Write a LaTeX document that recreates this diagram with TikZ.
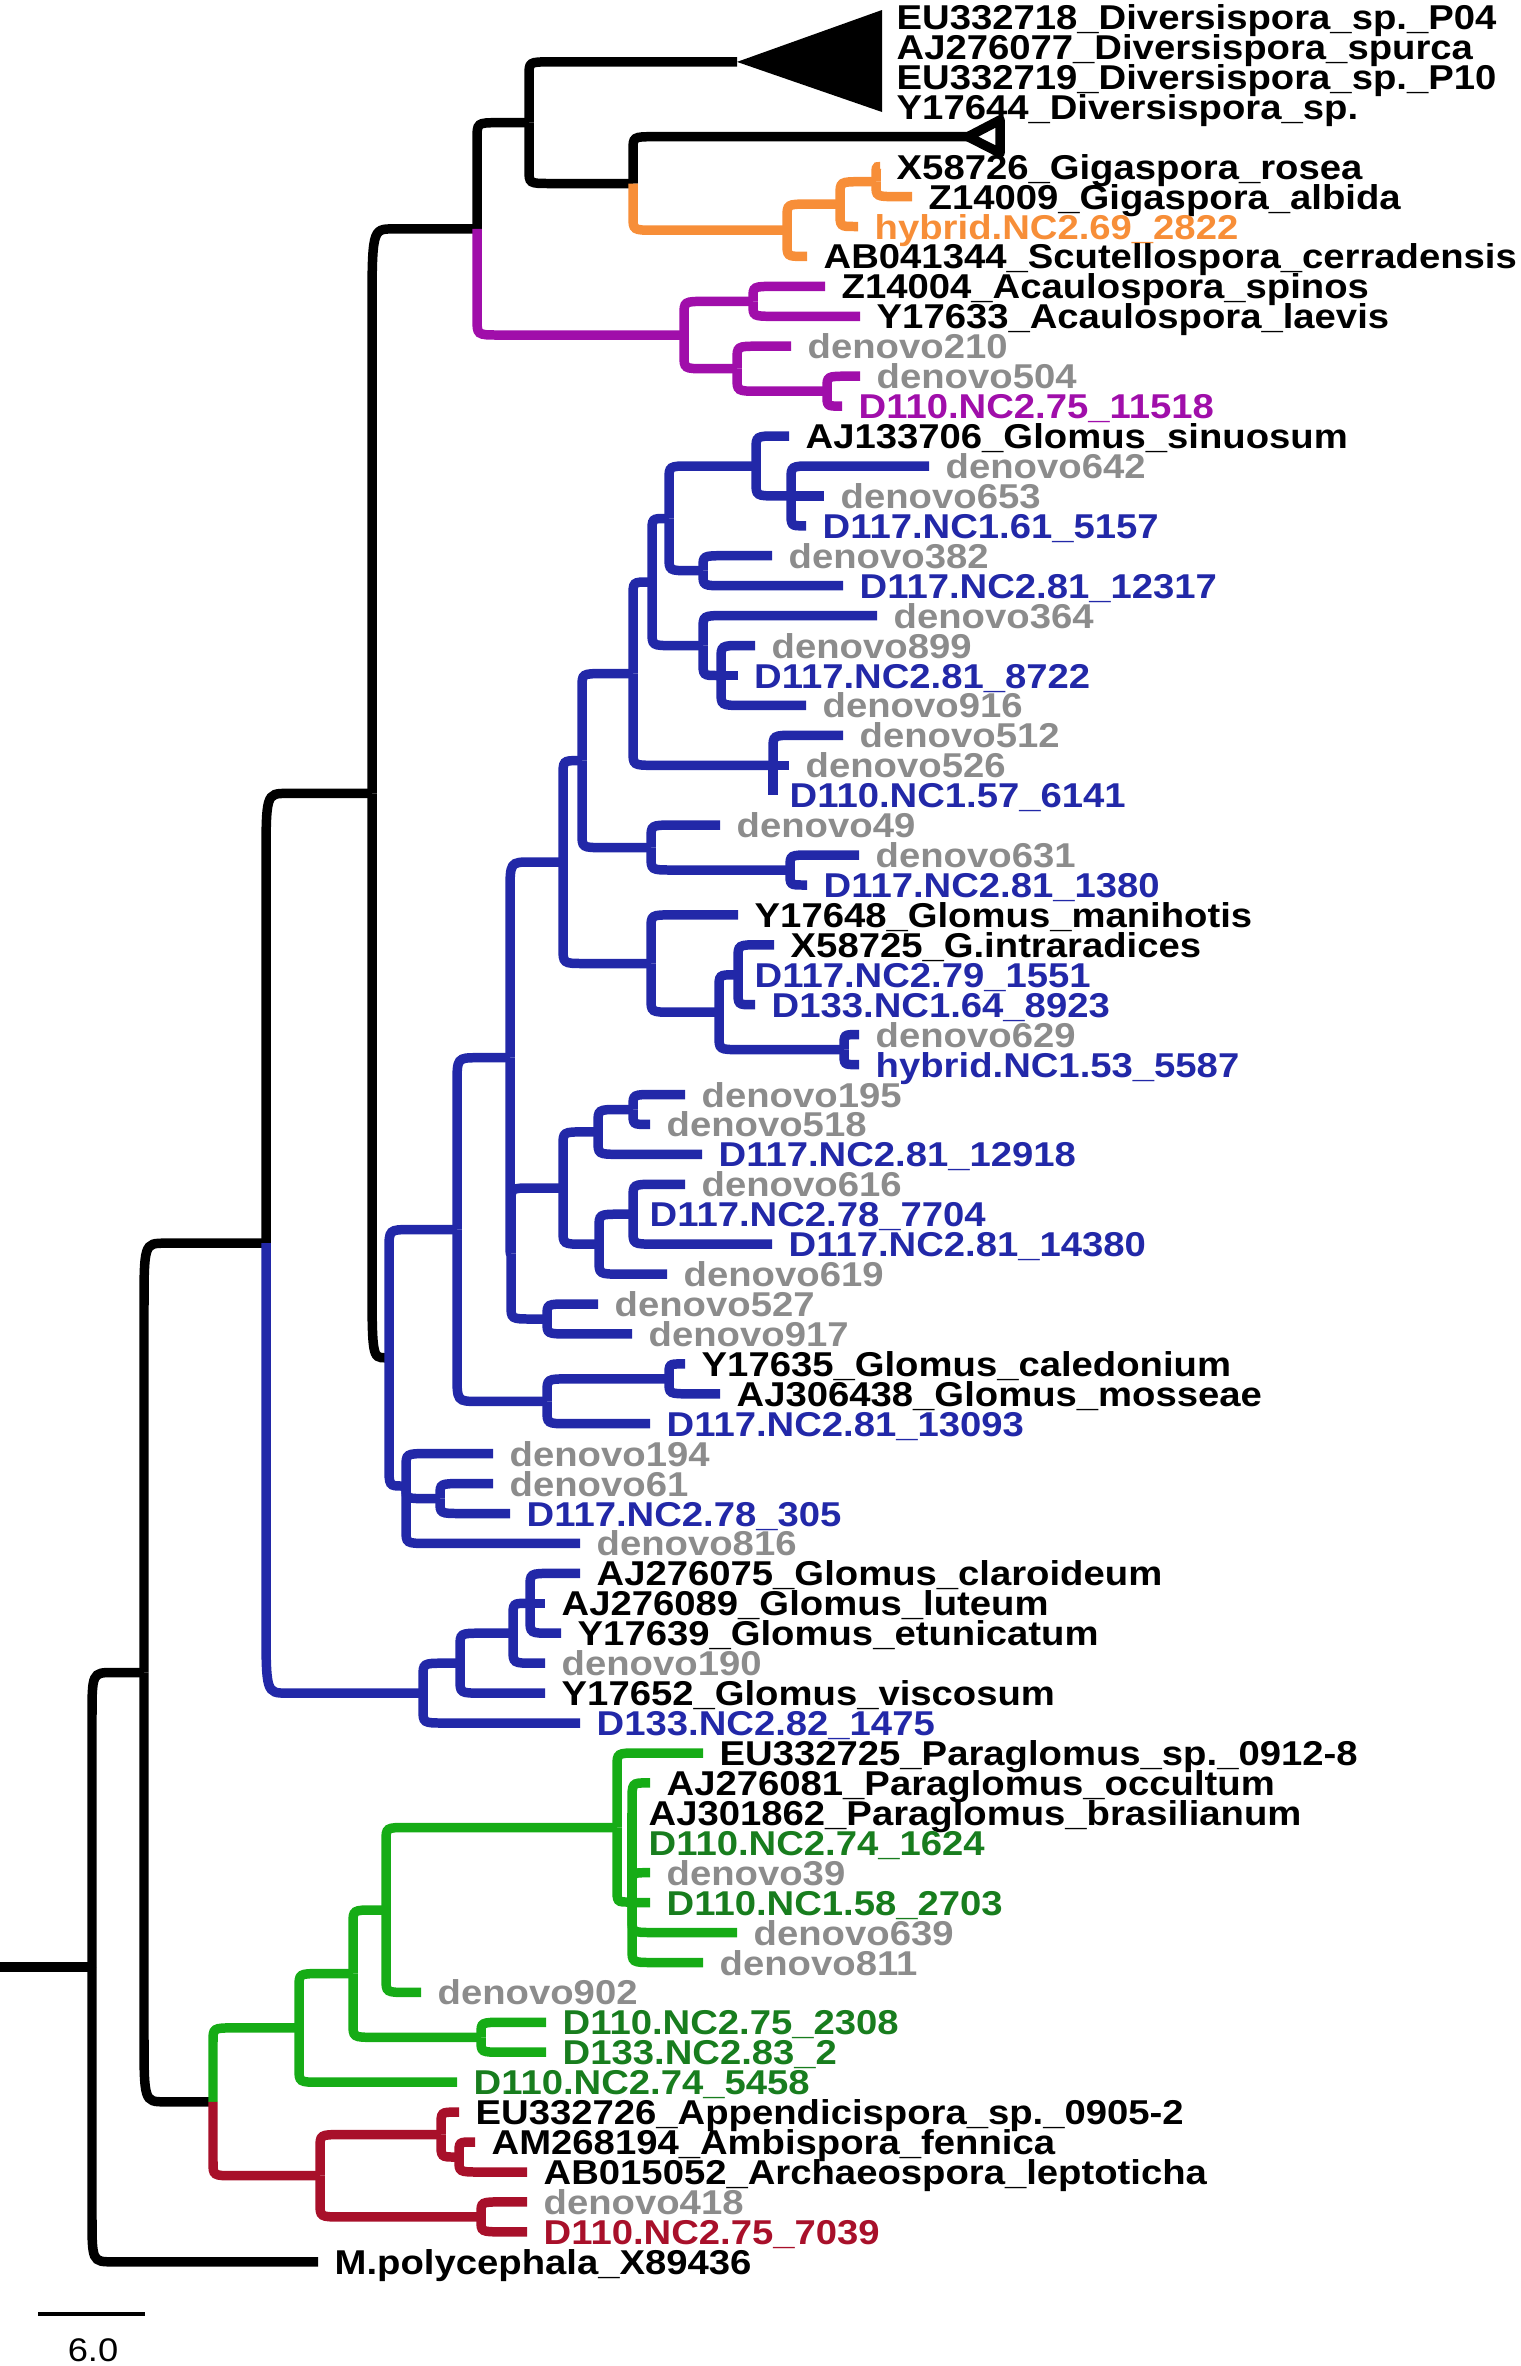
\documentclass[tikz,border=0pt]{standalone}
\usepackage{fontspec}
\usetikzlibrary{calc}
\newfontfamily\tipfont{Liberation Sans}[FakeStretch=1.11]
\definecolor{glblue}{RGB}{34,40,168}
\definecolor{acpurple}{RGB}{160,14,170}
\definecolor{giorange}{RGB}{247,142,56}
\definecolor{pagreen}{RGB}{22,172,22}
\definecolor{pagreentext}{RGB}{24,125,30}
\definecolor{arred}{RGB}{168,16,42}
\definecolor{novogray}{RGB}{140,140,140}
\tikzset{
  branch/.style={line width=2.7pt},
  tip/.style={anchor=base west, inner sep=0pt, xshift=0.16cm, yshift=-0.125cm,
    font={\tipfont\bfseries\fontsize{9.8pt}{11pt}\selectfont}},
}
% one branch: down (or up) from the parent, a soft corner, then across to the child
\newcommand{\br}[3][black]{%
  \draw[branch,#1] let \p1=(#2), \p2=(#3),
    \n1={min(6pt,0.8*abs(\x2-\x1))},
    \n2={min(max(4pt,0.16*abs(\y2-\y1)),0.8*abs(\y2-\y1))*sign(\y1-\y2)}
    in (\p1) -- (\x1,{\y2+\n2}) .. controls (\x1,\y2) .. ({\x1+\n1},\y2) -- (\p2);}
\begin{document}
\begin{tikzpicture}[x=0.01cm,y=-0.01cm]
\useasboundingbox (0,0) rectangle (1521,2366);

% inner nodes
\coordinate (root) at (0,1967.1);
\coordinate (B4) at (92,1967.1);
\coordinate (B3) at (144,1672.5);
\coordinate (B2) at (266,1243.2);
\coordinate (B1) at (372,793.4);
\coordinate (N0) at (477,228.9);
\coordinate (Na) at (529,122.7);
\coordinate (Nb) at (633,183.5);
\coordinate (Nc) at (787,230.2);
\coordinate (Nd) at (840,204.1);
\coordinate (Ne) at (876,181.7);
\coordinate (divapex) at (737,61.9);
\coordinate (divtop) at (882,10);
\coordinate (divbot) at (882,112);
\coordinate (gigapex) at (968,136.7);
\coordinate (gigtop) at (1000,120);
\coordinate (gigbot) at (1000,153);
\coordinate (P1) at (684,335.0);
\coordinate (P2) at (753,301.4);
\coordinate (P3) at (737,368.7);
\coordinate (P4) at (827,391.2);
\coordinate (G1) at (389,1357.8);
\coordinate (H1) at (457,1229.6);
\coordinate (A12a) at (510,1057.7);
\coordinate (A12b) at (511,1253.4);
\coordinate (A11) at (563,862.0);
\coordinate (A10) at (582,760.6);
\coordinate (A8) at (633,673.6);
\coordinate (A5) at (652,582.0);
\coordinate (A3) at (669,518.5);
\coordinate (A1) at (756,466.0);
\coordinate (A2) at (791,495.9);
\coordinate (A4) at (703,570.7);
\coordinate (A6) at (703,645.6);
\coordinate (A7) at (721,675.5);
\coordinate (A9) at (773,765.3);
\coordinate (A13) at (651,847.6);
\coordinate (A15) at (790,870.0);
\coordinate (A14) at (651,963.5);
\coordinate (A19) at (719,1012.2);
\coordinate (A26) at (738,974.8);
\coordinate (A25) at (844,1049.6);
\coordinate (A16) at (563,1188.0);
\coordinate (A17) at (598,1131.9);
\coordinate (A18) at (633,1109.5);
\coordinate (A23) at (599,1244.2);
\coordinate (A24) at (633,1214.2);
\coordinate (A22) at (547,1319.0);
\coordinate (A20) at (547,1401.4);
\coordinate (A21) at (669,1378.9);
\coordinate (A30) at (406,1486.0);
\coordinate (A31) at (440,1498.6);
\coordinate (C1) at (423,1693.1);
\coordinate (C2) at (460,1663.2);
\coordinate (C3) at (513,1633.2);
\coordinate (C4) at (530,1603.3);
\coordinate (GR) at (213,2101.8);
\coordinate (E1) at (299,2027.9);
\coordinate (E2) at (353,1973.6);
\coordinate (E3) at (386,1910.0);
\coordinate (E4) at (481,2037.3);
\coordinate (E5) at (617,1827.5);
\coordinate (E6) at (632,1902.0);
\coordinate (R1) at (320,2175.7);
\coordinate (R2) at (441,2134.6);
\coordinate (R3) at (481,2216.9);
\coordinate (R4) at (459,2157.0);

% tips and their labels
\coordinate (t0) at (880,17.0); \node[tip] (l0) at (t0) {EU332718\_Diversispora\_sp.\_P04};
\coordinate (t1) at (880,46.9); \node[tip] (l1) at (t1) {AJ276077\_Diversispora\_spurca};
\coordinate (t2) at (880,76.9); \node[tip] (l2) at (t2) {EU332719\_Diversispora\_sp.\_P10};
\coordinate (t3) at (880,106.8); \node[tip] (l3) at (t3) {Y17644\_Diversispora\_sp.};
\coordinate (t5) at (880,166.7); \node[tip] (l5) at (t5) {X58726\_Gigaspora\_rosea};
\coordinate (t6) at (912,196.6); \node[tip] (l6) at (t6) {Z14009\_Gigaspora\_albida};
\coordinate (t7) at (858,226.5); \node[tip,giorange] (l7) at (t7) {hybrid.NC2.69\_2822};
\coordinate (t8) at (807,256.4); \node[tip] (l8) at (t8) {AB041344\_Scutellospora\_cerradensis};
\coordinate (t9) at (825,286.4); \node[tip] (l9) at (t9) {Z14004\_Acaulospora\_spinos};
\coordinate (t10) at (860,316.3); \node[tip] (l10) at (t10) {Y17633\_Acaulospora\_laevis};
\coordinate (t11) at (791,346.2); \node[tip,novogray] (l11) at (t11) {denovo210};
\coordinate (t12) at (860,376.2); \node[tip,novogray] (l12) at (t12) {denovo504};
\coordinate (t13) at (842,406.1); \node[tip,acpurple] (l13) at (t13) {D110.NC2.75\_11518};
\coordinate (t14) at (789,436.0); \node[tip] (l14) at (t14) {AJ133706\_Glomus\_sinuosum};
\coordinate (t15) at (929,466.0); \node[tip,novogray] (l15) at (t15) {denovo642};
\coordinate (t16) at (824,495.9); \node[tip,novogray] (l16) at (t16) {denovo653};
\coordinate (t17) at (806,525.8); \node[tip,glblue] (l17) at (t17) {D117.NC1.61\_5157};
\coordinate (t18) at (772,555.7); \node[tip,novogray] (l18) at (t18) {denovo382};
\coordinate (t19) at (843,585.7); \node[tip,glblue] (l19) at (t19) {D117.NC2.81\_12317};
\coordinate (t20) at (877,615.6); \node[tip,novogray] (l20) at (t20) {denovo364};
\coordinate (t21) at (755,645.5); \node[tip,novogray] (l21) at (t21) {denovo899};
\coordinate (t22) at (737.5,675.5); \node[tip,glblue] (l22) at (t22) {D117.NC2.81\_8722};
\coordinate (t23) at (806,705.4); \node[tip,novogray] (l23) at (t23) {denovo916};
\coordinate (t24) at (843,735.3); \node[tip,novogray] (l24) at (t24) {denovo512};
\coordinate (t25) at (789,765.3); \node[tip,novogray] (l25) at (t25) {denovo526};
\coordinate (t26) at (773,795.2); \node[tip,glblue] (l26) at (t26) {D110.NC1.57\_6141};
\coordinate (t27) at (720,825.1); \node[tip,novogray] (l27) at (t27) {denovo49};
\coordinate (t28) at (859,855.0); \node[tip,novogray] (l28) at (t28) {denovo631};
\coordinate (t29) at (807,885.0); \node[tip,glblue] (l29) at (t29) {D117.NC2.81\_1380};
\coordinate (t30) at (738,914.9); \node[tip] (l30) at (t30) {Y17648\_Glomus\_manihotis};
\coordinate (t31) at (774,944.8); \node[tip] (l31) at (t31) {X58725\_G.intraradices};
\coordinate (t32) at (738,974.8); \node[tip,glblue] (l32) at (t32) {D117.NC2.79\_1551};
\coordinate (t33) at (755,1004.7); \node[tip,glblue] (l33) at (t33) {D133.NC1.64\_8923};
\coordinate (t34) at (859,1034.6); \node[tip,novogray] (l34) at (t34) {denovo629};
\coordinate (t35) at (859,1064.6); \node[tip,glblue] (l35) at (t35) {hybrid.NC1.53\_5587};
\coordinate (t36) at (685,1094.5); \node[tip,novogray] (l36) at (t36) {denovo195};
\coordinate (t37) at (650,1124.4); \node[tip,novogray] (l37) at (t37) {denovo518};
\coordinate (t38) at (702,1154.3); \node[tip,glblue] (l38) at (t38) {D117.NC2.81\_12918};
\coordinate (t39) at (685,1184.3); \node[tip,novogray] (l39) at (t39) {denovo616};
\coordinate (t40) at (633,1214.2); \node[tip,glblue] (l40) at (t40) {D117.NC2.78\_7704};
\coordinate (t41) at (772,1244.1); \node[tip,glblue] (l41) at (t41) {D117.NC2.81\_14380};
\coordinate (t42) at (667,1274.1); \node[tip,novogray] (l42) at (t42) {denovo619};
\coordinate (t43) at (598,1304.0); \node[tip,novogray] (l43) at (t43) {denovo527};
\coordinate (t44) at (632,1333.9); \node[tip,novogray] (l44) at (t44) {denovo917};
\coordinate (t45) at (685,1363.9); \node[tip] (l45) at (t45) {Y17635\_Glomus\_caledonium};
\coordinate (t46) at (720,1393.8); \node[tip] (l46) at (t46) {AJ306438\_Glomus\_mosseae};
\coordinate (t47) at (650,1423.7); \node[tip,glblue] (l47) at (t47) {D117.NC2.81\_13093};
\coordinate (t48) at (493,1453.6); \node[tip,novogray] (l48) at (t48) {denovo194};
\coordinate (t49) at (493,1483.6); \node[tip,novogray] (l49) at (t49) {denovo61};
\coordinate (t50) at (510,1513.5); \node[tip,glblue] (l50) at (t50) {D117.NC2.78\_305};
\coordinate (t51) at (580,1543.4); \node[tip,novogray] (l51) at (t51) {denovo816};
\coordinate (t52) at (580,1573.4); \node[tip] (l52) at (t52) {AJ276075\_Glomus\_claroideum};
\coordinate (t53) at (545,1603.3); \node[tip] (l53) at (t53) {AJ276089\_Glomus\_luteum};
\coordinate (t54) at (561,1633.2); \node[tip] (l54) at (t54) {Y17639\_Glomus\_etunicatum};
\coordinate (t55) at (545,1663.2); \node[tip,novogray] (l55) at (t55) {denovo190};
\coordinate (t56) at (545,1693.1); \node[tip] (l56) at (t56) {Y17652\_Glomus\_viscosum};
\coordinate (t57) at (580,1723.0); \node[tip,glblue] (l57) at (t57) {D133.NC2.82\_1475};
\coordinate (t58) at (703,1753.0); \node[tip] (l58) at (t58) {EU332725\_Paraglomus\_sp.\_0912-8};
\coordinate (t59) at (650,1782.9); \node[tip] (l59) at (t59) {AJ276081\_Paraglomus\_occultum};
\coordinate (t60) at (632,1812.8); \node[tip] (l60) at (t60) {AJ301862\_Paraglomus\_brasilianum};
\coordinate (t61) at (632,1842.7); \node[tip,pagreentext] (l61) at (t61) {D110.NC2.74\_1624};
\coordinate (t62) at (650,1872.7); \node[tip,novogray] (l62) at (t62) {denovo39};
\coordinate (t63) at (650,1902.6); \node[tip,pagreentext] (l63) at (t63) {D110.NC1.58\_2703};
\coordinate (t64) at (737,1932.5); \node[tip,novogray] (l64) at (t64) {denovo639};
\coordinate (t65) at (703,1962.5); \node[tip,novogray] (l65) at (t65) {denovo811};
\coordinate (t66) at (421,1992.4); \node[tip,novogray] (l66) at (t66) {denovo902};
\coordinate (t67) at (546,2022.3); \node[tip,pagreentext] (l67) at (t67) {D110.NC2.75\_2308};
\coordinate (t68) at (546,2052.2); \node[tip,pagreentext] (l68) at (t68) {D133.NC2.83\_2};
\coordinate (t69) at (457,2082.2); \node[tip,pagreentext] (l69) at (t69) {D110.NC2.74\_5458};
\coordinate (t70) at (459,2112.1); \node[tip] (l70) at (t70) {EU332726\_Appendicispora\_sp.\_0905-2};
\coordinate (t71) at (475,2142.0); \node[tip] (l71) at (t71) {AM268194\_Ambispora\_fennica};
\coordinate (t72) at (527,2172.0); \node[tip] (l72) at (t72) {AB015052\_Archaeospora\_leptoticha};
\coordinate (t73) at (527,2201.9); \node[tip,novogray] (l73) at (t73) {denovo418};
\coordinate (t74) at (527,2231.8); \node[tip,arred] (l74) at (t74) {D110.NC2.75\_7039};
\coordinate (t75) at (318,2261.8); \node[tip] (l75) at (t75) {M.polycephala\_X89436};

% backbone
\br{root}{B4}
\br{B4}{B3} \br{B4}{t75}
\br{B3}{B2} \br{B3}{GR}
\br{B2}{B1} \br[glblue]{B2}{C1}
\br{B1}{N0} \br{B1}{G1}
\br{N0}{Na} \br[acpurple]{N0}{P1}

% Diversispora and Gigaspora
\br{Na}{divapex} \br{Na}{Nb}
\fill (divapex) -- (divtop) -- (divbot) -- cycle;
\br{Nb}{gigapex}
\draw[branch,fill=white,line join=round] (gigapex) -- (gigtop) -- (gigbot) -- cycle;
\br[giorange]{Nb}{Nc}
\br[giorange]{Nc}{Nd} \br[giorange]{Nc}{t8}
\br[giorange]{Nd}{Ne} \br[giorange]{Nd}{t7}
\br[giorange]{Ne}{t5} \br[giorange]{Ne}{t6}

% Acaulospora
\br[acpurple]{P1}{P2} \br[acpurple]{P1}{P3}
\br[acpurple]{P2}{t9} \br[acpurple]{P2}{t10}
\br[acpurple]{P3}{t11} \br[acpurple]{P3}{P4}
\br[acpurple]{P4}{t12} \br[acpurple]{P4}{t13}

% Glomus
\br[glblue]{G1}{H1} \br[glblue]{G1}{A30}
\br[glblue]{H1}{A12a} \br[glblue]{H1}{A20}
\br[glblue]{A12a}{A11} \br[glblue]{A12a}{A12b}
\br[glblue]{A12b}{A16} \br[glblue]{A12b}{A22}
\br[glblue]{A11}{A10} \br[glblue]{A11}{A14}
\br[glblue]{A10}{A8} \br[glblue]{A10}{A13}
\br[glblue]{A8}{A5} \br[glblue]{A8}{A9}
\br[glblue]{A5}{A3} \br[glblue]{A5}{A6}
\br[glblue]{A3}{A1} \br[glblue]{A3}{A4}
\br[glblue]{A1}{t14} \br[glblue]{A1}{A2}
\br[glblue]{A2}{t15} \br[glblue]{A2}{t16} \br[glblue]{A2}{t17}
\br[glblue]{A4}{t18} \br[glblue]{A4}{t19}
\br[glblue]{A6}{t20} \br[glblue]{A6}{A7}
\br[glblue]{A7}{t21} \br[glblue]{A7}{t22} \br[glblue]{A7}{t23}
\br[glblue]{A9}{t24} \br[glblue]{A9}{t25} \br[glblue]{A9}{t26}
\br[glblue]{A13}{t27} \br[glblue]{A13}{A15}
\br[glblue]{A15}{t28} \br[glblue]{A15}{t29}
\br[glblue]{A14}{t30} \br[glblue]{A14}{A19}
\br[glblue]{A19}{A26} \br[glblue]{A19}{A25}
\br[glblue]{A26}{t31} \br[glblue]{A26}{t32} \br[glblue]{A26}{t33}
\br[glblue]{A25}{t34} \br[glblue]{A25}{t35}
\br[glblue]{A16}{A17} \br[glblue]{A16}{A23}
\br[glblue]{A17}{A18} \br[glblue]{A17}{t38}
\br[glblue]{A18}{t36} \br[glblue]{A18}{t37}
\br[glblue]{A23}{A24} \br[glblue]{A23}{t42}
\br[glblue]{A24}{t39} \br[glblue]{A24}{t40} \br[glblue]{A24}{t41}
\br[glblue]{A22}{t43} \br[glblue]{A22}{t44}
\br[glblue]{A20}{A21} \br[glblue]{A20}{t47}
\br[glblue]{A21}{t45} \br[glblue]{A21}{t46}
\br[glblue]{A30}{t48} \br[glblue]{A30}{A31} \br[glblue]{A30}{t51}
\br[glblue]{A31}{t49} \br[glblue]{A31}{t50}
\br[glblue]{C1}{C2} \br[glblue]{C1}{t57}
\br[glblue]{C2}{C3} \br[glblue]{C2}{t56}
\br[glblue]{C3}{C4} \br[glblue]{C3}{t55}
\br[glblue]{C4}{t52} \br[glblue]{C4}{t53} \br[glblue]{C4}{t54}

% Paraglomus
\br[pagreen]{GR}{E1}
\br[pagreen]{E1}{E2} \br[pagreen]{E1}{t69}
\br[pagreen]{E2}{E3} \br[pagreen]{E2}{E4}
\br[pagreen]{E3}{E5} \br[pagreen]{E3}{t66}
\br[pagreen]{E4}{t67} \br[pagreen]{E4}{t68}
\br[pagreen]{E5}{t58} \br[pagreen]{E5}{E6}
\br[pagreen]{E6}{t59} \br[pagreen]{E6}{t60} \br[pagreen]{E6}{t61}
\br[pagreen]{E6}{t62} \br[pagreen]{E6}{t63} \br[pagreen]{E6}{t64}
\br[pagreen]{E6}{t65}

% Archaeospora
\br[arred]{GR}{R1}
\br[arred]{R1}{R2} \br[arred]{R1}{R3}
\br[arred]{R2}{t70} \br[arred]{R2}{R4}
\br[arred]{R4}{t71} \br[arred]{R4}{t72}
\br[arred]{R3}{t73} \br[arred]{R3}{t74}

% scale bar
\coordinate (sb1) at (38,2314);
\coordinate (sb2) at (145,2314);
\draw[line width=1pt] (sb1) -- (sb2);
\node[anchor=base, inner sep=0pt, font={\tipfont\fontsize{9.3pt}{11pt}\selectfont}] (sblab) at (93,2361) {6.0};
\end{tikzpicture}
\end{document}
